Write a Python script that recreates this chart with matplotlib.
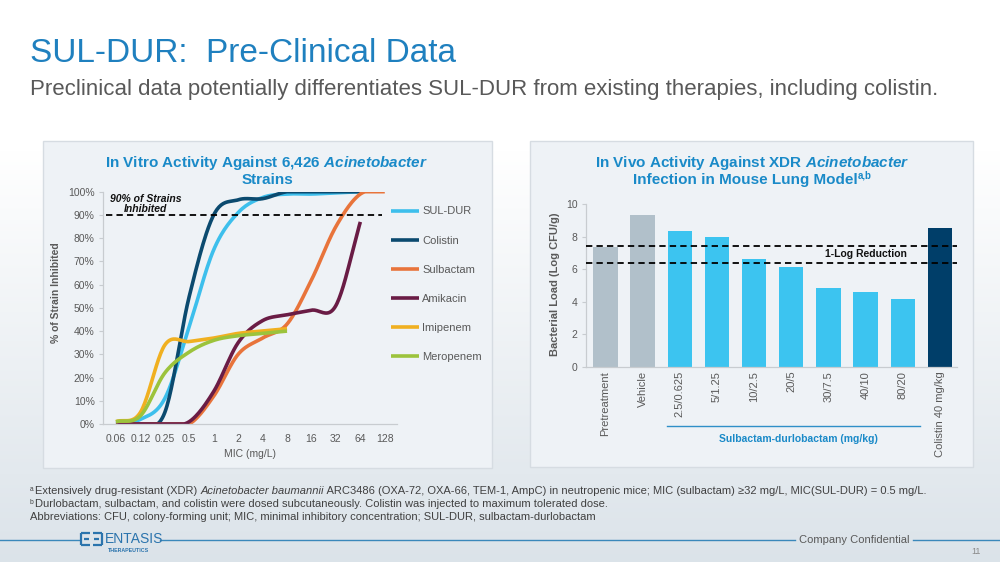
import numpy as np
import matplotlib
matplotlib.use("Agg")
import matplotlib.pyplot as plt
from matplotlib.patches import Rectangle
from matplotlib.lines import Line2D
import matplotlib.transforms as mtransforms

plt.rcParams['font.family'] = ['Liberation Sans', 'DejaVu Sans']
plt.rcParams['mathtext.fontset'] = 'custom'
plt.rcParams['mathtext.rm'] = 'Liberation Sans'
plt.rcParams['mathtext.it'] = 'Liberation Sans:italic'
plt.rcParams['mathtext.bf'] = 'Liberation Sans:bold'
plt.rcParams['mathtext.bfit'] = 'Liberation Sans:italic:bold'

# ---------------- data ----------------
mic_labels = ['0.06', '0.12', '0.25', '0.5', '1', '2', '4', '8', '16', '32', '64', '128']
sul_dur = [0.5, 2, 11, 42, 75, 91, 97.5, 99, 99, 99.5, 100]
colistin = [0, 0, 5, 55, 90, 96.5, 97, 100, 100, 100, 100]
sulbactam = [0, 0, 0, 0, 12, 30, 37, 43, 62, 85, 99, 100]
amikacin = [0, 0, 0, 1, 14, 35, 44.5, 47, 49, 51, 87]
imipenem = [1, 5, 34, 35.5, 37, 39, 40, 41]
meropenem = [1, 3.5, 22, 31, 36, 38, 39, 40]
series_names = ['SUL-DUR', 'Colistin', 'Sulbactam', 'Amikacin', 'Imipenem', 'Meropenem']
threshold_90 = 90

bar_labels = ['Pretreatment', 'Vehicle', '2.5/0.625', '5/1.25', '10/2.5', '20/5',
              '30/7.5', '40/10', '80/20', 'Colistin 40 mg/kg']
bar_values = [7.35, 9.35, 8.37, 8.0, 6.62, 6.15, 4.82, 4.57, 4.16, 8.55]
log_upper = 7.4
log_lower = 6.4

# ---------------- helpers ----------------
W, H = 1000, 562
def fx(x): return x / W
def fy(y): return 1 - y / H

def smooth(y, n=24):
    """Catmull-Rom rendering of a category line (Excel-style smoothed line)."""
    y = np.asarray(y, float)
    x = np.arange(len(y), dtype=float)
    px = np.concatenate([[2 * x[0] - x[1]], x, [2 * x[-1] - x[-2]]])
    py = np.concatenate([[2 * y[0] - y[1]], y, [2 * y[-1] - y[-2]]])
    xs, ys = [], []
    t = np.linspace(0, 1, n)
    for i in range(len(x) - 1):
        p0, p1, p2, p3 = (np.array([px[i + k], py[i + k]]) for k in range(4))
        c1 = p1 + (p2 - p0) / 6
        c2 = p2 - (p3 - p1) / 6
        pts = ((1 - t)[:, None] ** 3 * p1 + 3 * ((1 - t) ** 2 * t)[:, None] * c1
               + 3 * ((1 - t) * t ** 2)[:, None] * c2 + (t ** 3)[:, None] * p2)
        xs.append(pts[:, 0]); ys.append(np.clip(pts[:, 1], y.min(), y.max()))
    return np.concatenate(xs), np.concatenate(ys)

# ---------------- figure ----------------
fig = plt.figure(figsize=(10, 5.62), dpi=100)
renderer = fig.canvas.get_renderer()

def chain(x_px, y_px, parts, **kw):
    """Write consecutive text runs with different styles on one line."""
    x = fx(x_px)
    for txt, extra in parts:
        t = fig.text(x, fy(y_px), txt, va='baseline', ha='left', **kw, **extra)
        bb = t.get_window_extent(renderer=renderer)
        x = (bb.x1) / fig.bbox.width

# background gradient
bg = fig.add_axes([0, 0, 1, 1], zorder=-10)
rows = np.arange(H)
frac = np.clip((rows - 150) / (H - 150), 0, 1)
top = np.array([1.0, 1.0, 1.0])
bot = np.array([0.86, 0.89, 0.915])
grad = top[None, :] * (1 - frac[:, None]) + bot[None, :] * frac[:, None]
bg.imshow(grad[:, None, :], extent=[0, 1, 0, 1], aspect='auto', origin='upper')
bg.axis('off')

# panels
for (x0, y0, x1, y1) in [(43, 141, 492, 468), (530, 141, 973, 467)]:
    fig.add_artist(Rectangle((fx(x0), fy(y1)), fx(x1 - x0), (y1 - y0) / H,
                             transform=fig.transFigure, facecolor='#eef2f6',
                             edgecolor='#d6dce2', linewidth=1.0, zorder=-5))

# header
fig.text(fx(30), fy(54), 'SUL-DUR:  Pre-Clinical Data', fontsize=24, color='#1f80bf',
         va='center', ha='left')
fig.text(fx(30), fy(90), 'Preclinical data potentially differentiates SUL-DUR from existing therapies, including colistin.',
         fontsize=16, color='#595959', va='center', ha='left')

tick_gray = '#595959'
spine_gray = '#c8ccd0'
title_blue = '#1a8ac8'

# ---------------- left chart ----------------
axL = fig.add_axes([fx(103), fy(424), fx(397 - 103), (424 - 191.7) / H])
axL.set_facecolor('none')
colors = ['#3dbfec', '#0b4a6f', '#e8743b', '#6a1c45', '#f0b020', '#9cc33c']
data = [sul_dur, colistin, sulbactam, amikacin, imipenem, meropenem]
handles = []
for name, vals, c in zip(series_names, data, colors):
    xs, ys = smooth(vals)
    ln, = axL.plot(xs, ys, color=c, lw=2.6, solid_capstyle='butt', label=name)
    handles.append(ln)
axL.axhline(threshold_90, xmin=0.01, xmax=0.95, color='black', lw=1.3,
            linestyle=(0, (3.5, 2.3)))
axL.set_xlim(-0.53, 11.5)
axL.set_ylim(0, 100)
axL.set_yticks(np.arange(0, 101, 10))
axL.set_yticklabels([f'{v}%' for v in range(0, 101, 10)])
axL.set_xticks(range(len(mic_labels)))
axL.set_xticklabels(mic_labels)
axL.tick_params(axis='y', colors=tick_gray, labelsize=7.5, length=3, width=0.8,
                color=spine_gray, pad=3)
axL.tick_params(axis='x', colors=tick_gray, labelsize=7.5, length=0, pad=7)
for s in ['top', 'right']:
    axL.spines[s].set_visible(False)
for s in ['left', 'bottom']:
    axL.spines[s].set_color(spine_gray)
    axL.spines[s].set_linewidth(0.9)
axL.set_xlabel('MIC (mg/L)', fontsize=7.5, color=tick_gray, labelpad=4)
fig.text(fx(56), fy(293), '% of Strain Inhibited', rotation=90, fontsize=7.5,
         fontweight='bold', color=tick_gray, ha='center', va='center')
fig.text(fx(146), fy(204), '90% of Strains\nInhibited', fontsize=7.5, fontweight='bold',
         style='italic', color='#111111', ha='center', va='center', linespacing=1.0)
fig.text(fx(267), fy(166.5), 'In Vitro Activity Against 6,426 $\\mathbfit{Acinetobacter}$',
         fontsize=11, fontweight='bold', color=title_blue, ha='center', va='baseline')
fig.text(fx(267), fy(184), 'Strains',
         fontsize=11, fontweight='bold', color=title_blue, ha='center', va='baseline')
fig.legend(handles=handles, loc='upper left', bbox_to_anchor=(fx(391), fy(206.5)),
           frameon=False, fontsize=8, labelcolor=tick_gray, handlelength=2.5,
           handletextpad=0.3, labelspacing=1.72, borderpad=0, borderaxespad=0)

# ---------------- right chart ----------------
axR = fig.add_axes([fx(586), fy(366.7), fx(957 - 586), (366.7 - 204) / H])
axR.set_facecolor('none')
bar_colors = ['#b1c0ca', '#b1c0ca'] + ['#3cc4f0'] * 7 + ['#003e69']
xpos = np.arange(len(bar_values))
axR.bar(xpos, bar_values, width=0.655, color=bar_colors, zorder=2)
axR.axhline(log_upper, color='black', lw=1.3, linestyle=(0, (3.5, 2.3)), zorder=3)
axR.axhline(log_lower, color='black', lw=1.3, linestyle=(0, (3.5, 2.3)), zorder=3)
axR.text(7.0, (log_upper + log_lower) / 2, '1-Log Reduction', fontsize=7.5,
         fontweight='bold', color='#111111', ha='center', va='center', zorder=4)
axR.set_xlim(-0.52, 9.46)
axR.set_ylim(0, 10)
axR.set_yticks(np.arange(0, 11, 2))
axR.set_xticks(xpos)
axR.set_xticklabels(bar_labels, rotation=90, va='top', ha='center')
axR.tick_params(axis='y', colors=tick_gray, labelsize=7.5, length=3, width=0.8,
                color=spine_gray, pad=3)
axR.tick_params(axis='x', colors=tick_gray, labelsize=8, length=0, pad=3)
for s in ['top', 'right']:
    axR.spines[s].set_visible(False)
for s in ['left', 'bottom']:
    axR.spines[s].set_color(spine_gray)
    axR.spines[s].set_linewidth(0.9)
fig.text(fx(555), fy(284), 'Bacterial Load (Log CFU/g)', rotation=90, fontsize=8,
         fontweight='bold', color=tick_gray, ha='center', va='center')
fig.text(fx(752), fy(166.5), 'In Vivo Activity Against XDR $\\mathbfit{Acinetobacter}$',
         fontsize=11, fontweight='bold', color=title_blue, ha='center', va='baseline')
# second title line with a separate superscript run
main2 = fig.text(0, fy(184), 'Infection in Mouse Lung Model', fontsize=11,
                 fontweight='bold', color=title_blue, ha='left', va='baseline')
sup2 = fig.text(0, fy(179), 'a,b', fontsize=7, fontweight='bold', color=title_blue,
                ha='left', va='baseline')
w_main = main2.get_window_extent(renderer=renderer).width
w_sup = sup2.get_window_extent(renderer=renderer).width
x_start = 752 - (w_main + w_sup) / 2
main2.set_x(fx(x_start))
sup2.set_x(fx(x_start + w_main + 0.5))

trR = mtransforms.blended_transform_factory(axR.transData, fig.transFigure)
axR.add_line(Line2D([2 - 0.35, 8 + 0.47], [fy(425.7), fy(425.7)], transform=trR,
                    color='#2f8fc8', lw=1.0, clip_on=False))
axR.text(5.2, fy(438.5), 'Sulbactam-durlobactam (mg/kg)', transform=trR, fontsize=7.5,
         fontweight='bold', color=title_blue, ha='center', va='center')

# ---------------- footnotes ----------------
fn_color = '#404040'
fn_size = 8
chain(30, 491, [('a', dict(fontsize=4.8, color=fn_color))], )
chain(35, 494.5, [('Extensively drug-resistant (XDR) ', {}),
                  ('Acinetobacter baumannii', dict(style='italic')),
                  (' ARC3486 (OXA-72, OXA-66, TEM-1, AmpC) in neutropenic mice; MIC (sulbactam) \u226532 mg/L, MIC(SUL-DUR) = 0.5 mg/L.', {})],
      fontsize=fn_size, color=fn_color)
chain(30, 503.5, [('b', dict(fontsize=4.8, color=fn_color))])
chain(35, 507, [('Durlobactam, sulbactam, and colistin were dosed subcutaneously. Colistin was injected to maximum tolerated dose.', {})],
      fontsize=fn_size, color=fn_color)
chain(30, 519.5, [('Abbreviations: CFU, colony-forming unit; MIC, minimal inhibitory concentration; SUL-DUR, sulbactam-durlobactam', {})],
      fontsize=fn_size, color=fn_color)

# ---------------- footer ----------------
line_blue = '#3a88bb'
for (a, b) in [(0, 79), (160, 795), (913, 1000)]:
    fig.add_artist(Line2D([fx(a), fx(b)], [fy(539.5), fy(539.5)], transform=fig.transFigure,
                          color=line_blue, lw=1.0))
logo_c = '#2b74ad'
def seg(xa, ya, xb, yb):
    fig.add_artist(Line2D([fx(xa), fx(xb)], [fy(ya), fy(yb)], transform=fig.transFigure,
                          color=logo_c, lw=1.6, solid_capstyle='butt'))
seg(81, 533, 90, 533); seg(81, 533, 81, 545); seg(81, 545, 90, 545); seg(84, 539, 89, 539)
seg(93, 533, 102, 533); seg(102, 533, 102, 545); seg(93, 545, 102, 545); seg(94, 539, 99, 539)
fig.text(fx(105), fy(539), 'ENTASIS', fontsize=10, color=logo_c, va='center', ha='left')
fig.text(fx(108), fy(550), 'THERAPEUTICS', fontsize=3.8, color=logo_c, va='center', ha='left',
         fontweight='bold')
fig.text(fx(854), fy(540), 'Company Confidential', fontsize=8, color=tick_gray,
         va='center', ha='center')
fig.text(fx(976), fy(552), '11', fontsize=6.5, color='#8a8a8a', va='center', ha='center')

fig.savefig('out.png', dpi=100)
